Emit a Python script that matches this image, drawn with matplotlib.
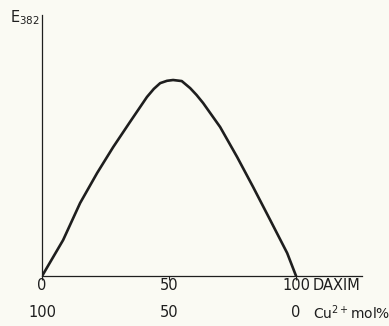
import matplotlib
matplotlib.use('Agg')
import matplotlib.pyplot as plt

# Job's plot (x = DAXIM mol %, y = E382 relative)
daxim = [0, 8.3, 15.0, 21.7, 28.0, 34.6, 41.3, 44.0, 46.5, 49.2, 51.6, 55.0,
         58.3, 60.8, 63.4, 70.1, 76.8, 83.1, 89.8, 96.5, 100]
e382 = [0, 0.138, 0.280, 0.395, 0.494, 0.590, 0.686, 0.717, 0.739, 0.748,
        0.751, 0.747, 0.720, 0.694, 0.663, 0.571, 0.456, 0.341, 0.215, 0.088, 0]
ticks = [0, 50, 100]
tick_labels = ['0\n100', '50\n50', '100\n0']

paper = '#fafaf3'
ink = '#1e1e1e'

fig = plt.figure(figsize=(3.89, 3.26), dpi=100, facecolor=paper)
ax = fig.add_axes([0.108, 0.153, 0.823, 0.801], facecolor=paper)

ax.plot(daxim, e382, color=ink, lw=1.9, solid_capstyle='round',
        solid_joinstyle='round')

ax.set_xlim(0, 126)
ax.set_ylim(0, 1)
for s in ['top', 'right']:
    ax.spines[s].set_visible(False)
for s in ['left', 'bottom']:
    ax.spines[s].set_color(ink)
    ax.spines[s].set_linewidth(0.9)

ax.set_yticks([])
ax.set_xticks(ticks)
ax.set_xticklabels(tick_labels, fontsize=10.5, color=ink, linespacing=2.05)
ax.tick_params(axis='x', length=3, width=0.8, color=ink, pad=-2)

# axis names at the right end of the x axis
ax.annotate('DAXIM', xy=(100, 0), xycoords='data', xytext=(12, -6.5),
            textcoords='offset points', ha='left', va='center',
            fontsize=10.5, color=ink)
ax.annotate(r'Cu$^{2+}$mol%', xy=(100, 0), xycoords='data', xytext=(12, -26.5),
            textcoords='offset points', ha='left', va='center',
            fontsize=10, color=ink)

fig.text(0.025, 0.945, r'$\mathregular{E_{382}}$', fontsize=10.5, color=ink,
         ha='left', va='center')

fig.savefig('out.png', dpi=100, facecolor=paper)
